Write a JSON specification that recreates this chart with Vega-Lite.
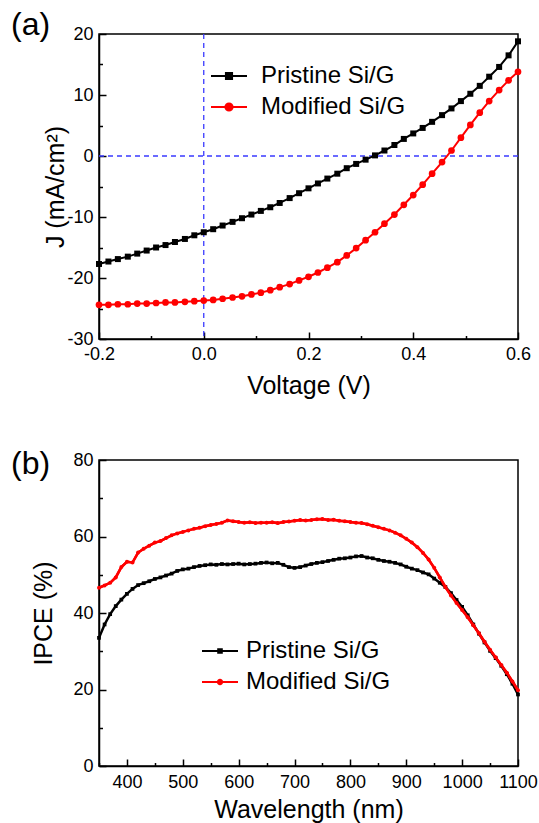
{
  "$schema": "https://vega.github.io/schema/vega-lite/v6.json",
  "background": "white",
  "padding": {"left": 10, "top": 8, "right": 0, "bottom": 0},
  "bounds": "flush",
  "spacing": 121,
  "resolve": {"scale": {"color": "independent"}, "legend": {"color": "independent"}},
  "datasets": {
    "jv": [
      {"V": -0.2, "J": -17.7, "series": "Pristine Si/G"},
      {"V": -0.182, "J": -17.3, "series": "Pristine Si/G"},
      {"V": -0.164, "J": -16.9, "series": "Pristine Si/G"},
      {"V": -0.145, "J": -16.5, "series": "Pristine Si/G"},
      {"V": -0.127, "J": -16.0, "series": "Pristine Si/G"},
      {"V": -0.109, "J": -15.5, "series": "Pristine Si/G"},
      {"V": -0.091, "J": -15.0, "series": "Pristine Si/G"},
      {"V": -0.073, "J": -14.6, "series": "Pristine Si/G"},
      {"V": -0.055, "J": -14.1, "series": "Pristine Si/G"},
      {"V": -0.036, "J": -13.6, "series": "Pristine Si/G"},
      {"V": -0.018, "J": -13.0, "series": "Pristine Si/G"},
      {"V": 0.0, "J": -12.5, "series": "Pristine Si/G"},
      {"V": 0.018, "J": -12.0, "series": "Pristine Si/G"},
      {"V": 0.036, "J": -11.4, "series": "Pristine Si/G"},
      {"V": 0.055, "J": -10.8, "series": "Pristine Si/G"},
      {"V": 0.073, "J": -10.2, "series": "Pristine Si/G"},
      {"V": 0.091, "J": -9.6, "series": "Pristine Si/G"},
      {"V": 0.109, "J": -9.0, "series": "Pristine Si/G"},
      {"V": 0.127, "J": -8.4, "series": "Pristine Si/G"},
      {"V": 0.145, "J": -7.7, "series": "Pristine Si/G"},
      {"V": 0.164, "J": -6.9, "series": "Pristine Si/G"},
      {"V": 0.182, "J": -6.1, "series": "Pristine Si/G"},
      {"V": 0.2, "J": -5.3, "series": "Pristine Si/G"},
      {"V": 0.218, "J": -4.5, "series": "Pristine Si/G"},
      {"V": 0.236, "J": -3.7, "series": "Pristine Si/G"},
      {"V": 0.255, "J": -2.9, "series": "Pristine Si/G"},
      {"V": 0.273, "J": -2.0, "series": "Pristine Si/G"},
      {"V": 0.291, "J": -1.3, "series": "Pristine Si/G"},
      {"V": 0.309, "J": -0.6, "series": "Pristine Si/G"},
      {"V": 0.327, "J": 0.1, "series": "Pristine Si/G"},
      {"V": 0.345, "J": 0.9, "series": "Pristine Si/G"},
      {"V": 0.364, "J": 1.8, "series": "Pristine Si/G"},
      {"V": 0.382, "J": 2.8, "series": "Pristine Si/G"},
      {"V": 0.4, "J": 3.7, "series": "Pristine Si/G"},
      {"V": 0.418, "J": 4.6, "series": "Pristine Si/G"},
      {"V": 0.436, "J": 5.6, "series": "Pristine Si/G"},
      {"V": 0.455, "J": 6.7, "series": "Pristine Si/G"},
      {"V": 0.473, "J": 7.8, "series": "Pristine Si/G"},
      {"V": 0.491, "J": 9.0, "series": "Pristine Si/G"},
      {"V": 0.509, "J": 10.2, "series": "Pristine Si/G"},
      {"V": 0.527, "J": 11.5, "series": "Pristine Si/G"},
      {"V": 0.545, "J": 13.0, "series": "Pristine Si/G"},
      {"V": 0.564, "J": 14.6, "series": "Pristine Si/G"},
      {"V": 0.582, "J": 16.5, "series": "Pristine Si/G"},
      {"V": 0.6, "J": 18.8, "series": "Pristine Si/G"},
      {"V": -0.2, "J": -24.4, "series": "Modified Si/G"},
      {"V": -0.182, "J": -24.4, "series": "Modified Si/G"},
      {"V": -0.164, "J": -24.3, "series": "Modified Si/G"},
      {"V": -0.145, "J": -24.3, "series": "Modified Si/G"},
      {"V": -0.127, "J": -24.2, "series": "Modified Si/G"},
      {"V": -0.109, "J": -24.2, "series": "Modified Si/G"},
      {"V": -0.091, "J": -24.1, "series": "Modified Si/G"},
      {"V": -0.073, "J": -24.0, "series": "Modified Si/G"},
      {"V": -0.055, "J": -24.0, "series": "Modified Si/G"},
      {"V": -0.036, "J": -23.9, "series": "Modified Si/G"},
      {"V": -0.018, "J": -23.8, "series": "Modified Si/G"},
      {"V": 0.0, "J": -23.7, "series": "Modified Si/G"},
      {"V": 0.018, "J": -23.6, "series": "Modified Si/G"},
      {"V": 0.036, "J": -23.4, "series": "Modified Si/G"},
      {"V": 0.055, "J": -23.2, "series": "Modified Si/G"},
      {"V": 0.073, "J": -23.0, "series": "Modified Si/G"},
      {"V": 0.091, "J": -22.7, "series": "Modified Si/G"},
      {"V": 0.109, "J": -22.4, "series": "Modified Si/G"},
      {"V": 0.127, "J": -22.0, "series": "Modified Si/G"},
      {"V": 0.145, "J": -21.5, "series": "Modified Si/G"},
      {"V": 0.164, "J": -21.0, "series": "Modified Si/G"},
      {"V": 0.182, "J": -20.4, "series": "Modified Si/G"},
      {"V": 0.2, "J": -19.8, "series": "Modified Si/G"},
      {"V": 0.218, "J": -19.1, "series": "Modified Si/G"},
      {"V": 0.236, "J": -18.3, "series": "Modified Si/G"},
      {"V": 0.255, "J": -17.4, "series": "Modified Si/G"},
      {"V": 0.273, "J": -16.3, "series": "Modified Si/G"},
      {"V": 0.291, "J": -15.1, "series": "Modified Si/G"},
      {"V": 0.309, "J": -13.8, "series": "Modified Si/G"},
      {"V": 0.327, "J": -12.5, "series": "Modified Si/G"},
      {"V": 0.345, "J": -11.1, "series": "Modified Si/G"},
      {"V": 0.364, "J": -9.6, "series": "Modified Si/G"},
      {"V": 0.382, "J": -8.0, "series": "Modified Si/G"},
      {"V": 0.4, "J": -6.4, "series": "Modified Si/G"},
      {"V": 0.418, "J": -4.7, "series": "Modified Si/G"},
      {"V": 0.436, "J": -2.9, "series": "Modified Si/G"},
      {"V": 0.455, "J": -1.0, "series": "Modified Si/G"},
      {"V": 0.473, "J": 0.9, "series": "Modified Si/G"},
      {"V": 0.491, "J": 3.0, "series": "Modified Si/G"},
      {"V": 0.509, "J": 5.1, "series": "Modified Si/G"},
      {"V": 0.527, "J": 7.1, "series": "Modified Si/G"},
      {"V": 0.545, "J": 9.0, "series": "Modified Si/G"},
      {"V": 0.564, "J": 10.8, "series": "Modified Si/G"},
      {"V": 0.582, "J": 12.4, "series": "Modified Si/G"},
      {"V": 0.6, "J": 13.8, "series": "Modified Si/G"}
    ],
    "ipce": [
      {"wl": 350, "y": 33.5, "series": "Pristine Si/G"},
      {"wl": 360, "y": 37.0, "series": "Pristine Si/G"},
      {"wl": 370, "y": 39.7, "series": "Pristine Si/G"},
      {"wl": 380, "y": 41.8, "series": "Pristine Si/G"},
      {"wl": 390, "y": 43.5, "series": "Pristine Si/G"},
      {"wl": 400, "y": 45.0, "series": "Pristine Si/G"},
      {"wl": 410, "y": 46.3, "series": "Pristine Si/G"},
      {"wl": 420, "y": 47.3, "series": "Pristine Si/G"},
      {"wl": 430, "y": 47.8, "series": "Pristine Si/G"},
      {"wl": 440, "y": 48.3, "series": "Pristine Si/G"},
      {"wl": 450, "y": 48.9, "series": "Pristine Si/G"},
      {"wl": 460, "y": 49.3, "series": "Pristine Si/G"},
      {"wl": 470, "y": 49.8, "series": "Pristine Si/G"},
      {"wl": 480, "y": 50.3, "series": "Pristine Si/G"},
      {"wl": 490, "y": 51.0, "series": "Pristine Si/G"},
      {"wl": 500, "y": 51.4, "series": "Pristine Si/G"},
      {"wl": 510, "y": 51.6, "series": "Pristine Si/G"},
      {"wl": 520, "y": 52.0, "series": "Pristine Si/G"},
      {"wl": 530, "y": 52.3, "series": "Pristine Si/G"},
      {"wl": 540, "y": 52.5, "series": "Pristine Si/G"},
      {"wl": 550, "y": 52.7, "series": "Pristine Si/G"},
      {"wl": 560, "y": 52.6, "series": "Pristine Si/G"},
      {"wl": 570, "y": 52.8, "series": "Pristine Si/G"},
      {"wl": 580, "y": 52.7, "series": "Pristine Si/G"},
      {"wl": 590, "y": 52.8, "series": "Pristine Si/G"},
      {"wl": 600, "y": 52.9, "series": "Pristine Si/G"},
      {"wl": 610, "y": 52.7, "series": "Pristine Si/G"},
      {"wl": 620, "y": 52.8, "series": "Pristine Si/G"},
      {"wl": 630, "y": 52.9, "series": "Pristine Si/G"},
      {"wl": 640, "y": 53.1, "series": "Pristine Si/G"},
      {"wl": 650, "y": 53.2, "series": "Pristine Si/G"},
      {"wl": 660, "y": 53.0, "series": "Pristine Si/G"},
      {"wl": 670, "y": 53.1, "series": "Pristine Si/G"},
      {"wl": 680, "y": 52.6, "series": "Pristine Si/G"},
      {"wl": 690, "y": 52.0, "series": "Pristine Si/G"},
      {"wl": 700, "y": 51.8, "series": "Pristine Si/G"},
      {"wl": 710, "y": 52.0, "series": "Pristine Si/G"},
      {"wl": 720, "y": 52.4, "series": "Pristine Si/G"},
      {"wl": 730, "y": 52.8, "series": "Pristine Si/G"},
      {"wl": 740, "y": 53.1, "series": "Pristine Si/G"},
      {"wl": 750, "y": 53.3, "series": "Pristine Si/G"},
      {"wl": 760, "y": 53.6, "series": "Pristine Si/G"},
      {"wl": 770, "y": 53.9, "series": "Pristine Si/G"},
      {"wl": 780, "y": 54.2, "series": "Pristine Si/G"},
      {"wl": 790, "y": 54.3, "series": "Pristine Si/G"},
      {"wl": 800, "y": 54.5, "series": "Pristine Si/G"},
      {"wl": 810, "y": 54.8, "series": "Pristine Si/G"},
      {"wl": 820, "y": 54.9, "series": "Pristine Si/G"},
      {"wl": 830, "y": 54.5, "series": "Pristine Si/G"},
      {"wl": 840, "y": 54.3, "series": "Pristine Si/G"},
      {"wl": 850, "y": 53.9, "series": "Pristine Si/G"},
      {"wl": 860, "y": 53.6, "series": "Pristine Si/G"},
      {"wl": 870, "y": 53.4, "series": "Pristine Si/G"},
      {"wl": 880, "y": 53.1, "series": "Pristine Si/G"},
      {"wl": 890, "y": 52.7, "series": "Pristine Si/G"},
      {"wl": 900, "y": 52.1, "series": "Pristine Si/G"},
      {"wl": 910, "y": 51.6, "series": "Pristine Si/G"},
      {"wl": 920, "y": 51.2, "series": "Pristine Si/G"},
      {"wl": 930, "y": 50.6, "series": "Pristine Si/G"},
      {"wl": 940, "y": 50.1, "series": "Pristine Si/G"},
      {"wl": 950, "y": 49.0, "series": "Pristine Si/G"},
      {"wl": 960, "y": 47.9, "series": "Pristine Si/G"},
      {"wl": 970, "y": 46.8, "series": "Pristine Si/G"},
      {"wl": 980, "y": 45.2, "series": "Pristine Si/G"},
      {"wl": 990, "y": 43.4, "series": "Pristine Si/G"},
      {"wl": 1000, "y": 41.6, "series": "Pristine Si/G"},
      {"wl": 1010, "y": 39.4, "series": "Pristine Si/G"},
      {"wl": 1020, "y": 37.0, "series": "Pristine Si/G"},
      {"wl": 1030, "y": 34.6, "series": "Pristine Si/G"},
      {"wl": 1040, "y": 32.3, "series": "Pristine Si/G"},
      {"wl": 1050, "y": 30.1, "series": "Pristine Si/G"},
      {"wl": 1060, "y": 28.2, "series": "Pristine Si/G"},
      {"wl": 1070, "y": 26.2, "series": "Pristine Si/G"},
      {"wl": 1080, "y": 24.0, "series": "Pristine Si/G"},
      {"wl": 1090, "y": 21.5, "series": "Pristine Si/G"},
      {"wl": 1100, "y": 18.7, "series": "Pristine Si/G"},
      {"wl": 350, "y": 46.6, "series": "Modified Si/G"},
      {"wl": 360, "y": 47.2, "series": "Modified Si/G"},
      {"wl": 370, "y": 47.9, "series": "Modified Si/G"},
      {"wl": 380, "y": 49.3, "series": "Modified Si/G"},
      {"wl": 390, "y": 52.0, "series": "Modified Si/G"},
      {"wl": 400, "y": 53.4, "series": "Modified Si/G"},
      {"wl": 410, "y": 53.2, "series": "Modified Si/G"},
      {"wl": 420, "y": 55.8, "series": "Modified Si/G"},
      {"wl": 430, "y": 56.8, "series": "Modified Si/G"},
      {"wl": 440, "y": 57.6, "series": "Modified Si/G"},
      {"wl": 450, "y": 58.4, "series": "Modified Si/G"},
      {"wl": 460, "y": 58.8, "series": "Modified Si/G"},
      {"wl": 470, "y": 59.6, "series": "Modified Si/G"},
      {"wl": 480, "y": 60.3, "series": "Modified Si/G"},
      {"wl": 490, "y": 60.8, "series": "Modified Si/G"},
      {"wl": 500, "y": 61.2, "series": "Modified Si/G"},
      {"wl": 510, "y": 61.6, "series": "Modified Si/G"},
      {"wl": 520, "y": 62.0, "series": "Modified Si/G"},
      {"wl": 530, "y": 62.3, "series": "Modified Si/G"},
      {"wl": 540, "y": 62.7, "series": "Modified Si/G"},
      {"wl": 550, "y": 63.0, "series": "Modified Si/G"},
      {"wl": 560, "y": 63.3, "series": "Modified Si/G"},
      {"wl": 570, "y": 63.6, "series": "Modified Si/G"},
      {"wl": 580, "y": 64.2, "series": "Modified Si/G"},
      {"wl": 590, "y": 64.0, "series": "Modified Si/G"},
      {"wl": 600, "y": 63.8, "series": "Modified Si/G"},
      {"wl": 610, "y": 63.6, "series": "Modified Si/G"},
      {"wl": 620, "y": 63.7, "series": "Modified Si/G"},
      {"wl": 630, "y": 63.5, "series": "Modified Si/G"},
      {"wl": 640, "y": 63.6, "series": "Modified Si/G"},
      {"wl": 650, "y": 63.6, "series": "Modified Si/G"},
      {"wl": 660, "y": 63.7, "series": "Modified Si/G"},
      {"wl": 670, "y": 63.5, "series": "Modified Si/G"},
      {"wl": 680, "y": 63.8, "series": "Modified Si/G"},
      {"wl": 690, "y": 63.9, "series": "Modified Si/G"},
      {"wl": 700, "y": 64.1, "series": "Modified Si/G"},
      {"wl": 710, "y": 64.3, "series": "Modified Si/G"},
      {"wl": 720, "y": 64.2, "series": "Modified Si/G"},
      {"wl": 730, "y": 64.3, "series": "Modified Si/G"},
      {"wl": 740, "y": 64.5, "series": "Modified Si/G"},
      {"wl": 750, "y": 64.6, "series": "Modified Si/G"},
      {"wl": 760, "y": 64.3, "series": "Modified Si/G"},
      {"wl": 770, "y": 64.4, "series": "Modified Si/G"},
      {"wl": 780, "y": 64.1, "series": "Modified Si/G"},
      {"wl": 790, "y": 64.0, "series": "Modified Si/G"},
      {"wl": 800, "y": 63.8, "series": "Modified Si/G"},
      {"wl": 810, "y": 63.6, "series": "Modified Si/G"},
      {"wl": 820, "y": 63.5, "series": "Modified Si/G"},
      {"wl": 830, "y": 63.2, "series": "Modified Si/G"},
      {"wl": 840, "y": 62.8, "series": "Modified Si/G"},
      {"wl": 850, "y": 62.4, "series": "Modified Si/G"},
      {"wl": 860, "y": 62.0, "series": "Modified Si/G"},
      {"wl": 870, "y": 61.6, "series": "Modified Si/G"},
      {"wl": 880, "y": 61.0, "series": "Modified Si/G"},
      {"wl": 890, "y": 60.3, "series": "Modified Si/G"},
      {"wl": 900, "y": 59.4, "series": "Modified Si/G"},
      {"wl": 910, "y": 58.4, "series": "Modified Si/G"},
      {"wl": 920, "y": 57.2, "series": "Modified Si/G"},
      {"wl": 930, "y": 55.7, "series": "Modified Si/G"},
      {"wl": 940, "y": 54.0, "series": "Modified Si/G"},
      {"wl": 950, "y": 51.8, "series": "Modified Si/G"},
      {"wl": 960, "y": 49.3, "series": "Modified Si/G"},
      {"wl": 970, "y": 46.8, "series": "Modified Si/G"},
      {"wl": 980, "y": 44.6, "series": "Modified Si/G"},
      {"wl": 990, "y": 42.6, "series": "Modified Si/G"},
      {"wl": 1000, "y": 40.8, "series": "Modified Si/G"},
      {"wl": 1010, "y": 38.9, "series": "Modified Si/G"},
      {"wl": 1020, "y": 36.8, "series": "Modified Si/G"},
      {"wl": 1030, "y": 34.7, "series": "Modified Si/G"},
      {"wl": 1040, "y": 32.5, "series": "Modified Si/G"},
      {"wl": 1050, "y": 30.4, "series": "Modified Si/G"},
      {"wl": 1060, "y": 28.4, "series": "Modified Si/G"},
      {"wl": 1070, "y": 26.4, "series": "Modified Si/G"},
      {"wl": 1080, "y": 24.4, "series": "Modified Si/G"},
      {"wl": 1090, "y": 22.1, "series": "Modified Si/G"},
      {"wl": 1100, "y": 19.8, "series": "Modified Si/G"}
    ],
    "zeroV": [{"V": 0}],
    "zeroJ": [{"J": 0}]
  },
  "vconcat": [
    {
      "width": 419,
      "height": 305,
      "title": {"text": "(a)", "anchor": "start", "frame": "group", "fontSize": 32, "fontWeight": "normal", "baseline": "alphabetic", "offset": 0, "dx": -88, "dy": 42},
      "resolve": {"axis": {"x": "independent", "y": "independent"}},
      "layer": [
        {
          "data": {"name": "zeroV"},
          "mark": {"type": "rule", "color": "#3a3aff", "strokeDash": [5, 4], "strokeWidth": 1.3},
          "encoding": {"x": {"field": "V", "type": "quantitative", "axis": null}}
        },
        {
          "data": {"name": "zeroJ"},
          "mark": {"type": "rule", "color": "#3a3aff", "strokeDash": [5, 4], "strokeWidth": 1.3},
          "encoding": {"y": {"field": "J", "type": "quantitative", "axis": null}}
        },
        {
          "data": {"name": "jv"},
          "mark": {"type": "line", "strokeWidth": 2},
          "encoding": {
            "x": {"field": "V", "type": "quantitative", "title": "Voltage (V)",
              "scale": {"domain": [-0.2, 0.6], "nice": false, "zero": false},
              "axis": {"orient": "bottom", "values": [-0.2, 0, 0.2, 0.4, 0.6], "tickSize": -7, "labelPadding": 13, "titlePadding": 10,
                "labelExpr": "replace(format(datum.value,'.1f'),'−','-')"}},
            "y": {"field": "J", "type": "quantitative", "title": "J (mA/cm²)",
              "scale": {"domain": [-30, 20], "nice": false, "zero": false},
              "axis": {"orient": "left", "values": [-30, -20, -10, 0, 10, 20], "tickSize": -7, "labelPadding": 13, "titlePadding": -2,
                "labelExpr": "'' + datum.value"}},
            "color": {"field": "series", "type": "nominal", "sort": ["Pristine Si/G", "Modified Si/G"],
              "scale": {"domain": ["Pristine Si/G", "Modified Si/G"], "range": ["#000000", "#ff0000"]},
              "legend": {"title": null, "orient": "none", "legendX": 111, "legendY": 23, "padding": 0,
                "symbolSize": 1296, "labelFontSize": 24, "labelOffset": 13, "rowPadding": -2,
                "encode": {"symbols": {"update": {
                  "shape": {"signal": "datum.value == 'Pristine Si/G' ? 'M-1,0H1M-0.17,-0.17H0.17V0.17H-0.17Z' : 'M-1,0H1M0.2,0A0.2,0.2,0,1,1,-0.2,0A0.2,0.2,0,1,1,0.2,0Z'"},
                  "fill": {"signal": "datum.value == 'Pristine Si/G' ? '#000000' : '#ff0000'"},
                  "stroke": {"signal": "datum.value == 'Pristine Si/G' ? '#000000' : '#ff0000'"},
                  "strokeWidth": {"value": 2},
                  "size": {"value": 1296},
                  "opacity": {"value": 1}}}}}}
          }
        },
        {
          "data": {"name": "jv"},
          "transform": [{"filter": "datum.series == 'Pristine Si/G'"}],
          "mark": {"type": "point", "shape": "square", "filled": true, "size": 36, "color": "#000000", "opacity": 1},
          "encoding": {
            "x": {"field": "V", "type": "quantitative",
              "axis": {"orient": "bottom", "values": [-0.1, 0.1, 0.3, 0.5], "tickSize": -3.5, "labels": false, "domain": false, "title": null}},
            "y": {"field": "J", "type": "quantitative",
              "axis": {"orient": "left", "values": [-25, -15, -5, 5, 15], "tickSize": -3.5, "labels": false, "domain": false, "title": null}}
          }
        },
        {
          "data": {"name": "jv"},
          "transform": [{"filter": "datum.series == 'Modified Si/G'"}],
          "mark": {"type": "point", "shape": "circle", "filled": true, "size": 45, "color": "#ff0000", "opacity": 1},
          "encoding": {"x": {"field": "V", "type": "quantitative", "axis": null}, "y": {"field": "J", "type": "quantitative", "axis": null}}
        }
      ]
    },
    {
      "width": 419,
      "height": 306,
      "title": {"text": "(b)", "anchor": "start", "frame": "group", "fontSize": 32, "fontWeight": "normal", "baseline": "alphabetic", "offset": 0, "dx": -88, "dy": 55},
      "data": {"name": "ipce"},
      "resolve": {"axis": {"x": "independent", "y": "independent"}},
      "layer": [
        {
          "mark": {"type": "line", "strokeWidth": 2.5},
          "encoding": {
            "x": {"field": "wl", "type": "quantitative", "title": "Wavelength (nm)",
              "scale": {"domain": [350, 1100], "nice": false, "zero": false},
              "axis": {"orient": "bottom", "values": [400, 500, 600, 700, 800, 900, 1000, 1100], "format": "d", "tickSize": -7, "labelPadding": 14, "titlePadding": 6}},
            "y": {"field": "y", "type": "quantitative", "title": "IPCE (%)",
              "scale": {"domain": [0, 80], "nice": false},
              "axis": {"orient": "left", "values": [0, 20, 40, 60, 80], "format": "d", "tickSize": -7, "labelPadding": 13, "titlePadding": 16}},
            "color": {"field": "series", "type": "nominal", "sort": ["Pristine Si/G", "Modified Si/G"],
              "scale": {"domain": ["Pristine Si/G", "Modified Si/G"], "range": ["#000000", "#ff0000"]},
              "legend": {"title": null, "orient": "none", "legendX": 102, "legendY": 172, "padding": 0,
                "symbolSize": 1296, "labelFontSize": 24, "labelOffset": 7, "rowPadding": -5,
                "encode": {"symbols": {"update": {
                  "shape": {"signal": "datum.value == 'Pristine Si/G' ? 'M-1,0H1M-0.1,-0.1H0.1V0.1H-0.1Z' : 'M-1,0H1M0.12,0A0.12,0.12,0,1,1,-0.12,0A0.12,0.12,0,1,1,0.12,0Z'"},
                  "fill": {"signal": "datum.value == 'Pristine Si/G' ? '#000000' : '#ff0000'"},
                  "stroke": {"signal": "datum.value == 'Pristine Si/G' ? '#000000' : '#ff0000'"},
                  "strokeWidth": {"value": 2},
                  "size": {"value": 1296},
                  "opacity": {"value": 1}}}}}}
          }
        },
        {
          "transform": [{"filter": "datum.series == 'Pristine Si/G'"}],
          "mark": {"type": "point", "shape": "square", "filled": true, "size": 14, "color": "#000000", "opacity": 1},
          "encoding": {
            "x": {"field": "wl", "type": "quantitative",
              "axis": {"orient": "bottom", "values": [350, 450, 550, 650, 750, 850, 950, 1050], "tickSize": -3.5, "labels": false, "domain": false, "title": null}},
            "y": {"field": "y", "type": "quantitative",
              "axis": {"orient": "left", "values": [10, 30, 50, 70], "tickSize": -3.5, "labels": false, "domain": false, "title": null}}
          }
        },
        {
          "transform": [{"filter": "datum.series == 'Modified Si/G'"}],
          "mark": {"type": "line", "strokeWidth": 2.5, "color": "#ff0000"},
          "encoding": {"x": {"field": "wl", "type": "quantitative", "axis": null}, "y": {"field": "y", "type": "quantitative", "axis": null}}
        },
        {
          "transform": [{"filter": "datum.series == 'Modified Si/G'"}],
          "mark": {"type": "point", "shape": "circle", "filled": true, "size": 16, "color": "#ff0000", "opacity": 1},
          "encoding": {"x": {"field": "wl", "type": "quantitative", "axis": null}, "y": {"field": "y", "type": "quantitative", "axis": null}}
        }
      ]
    }
  ],
  "config": {
    "font": "Liberation Sans",
    "view": {"stroke": "#000000", "strokeWidth": 1.5},
    "title": {"color": "#000000", "font": "Liberation Sans"},
    "axis": {
      "grid": false,
      "domainColor": "#000000", "domainWidth": 1.5,
      "tickColor": "#000000", "tickWidth": 1.5,
      "labelColor": "#000000", "labelFont": "Liberation Sans", "labelFontSize": 18,
      "labelFlush": false, "labelOverlap": false,
      "titleColor": "#000000", "titleFont": "Liberation Sans", "titleFontSize": 25, "titleFontWeight": "normal"
    },
    "legend": {"labelColor": "#000000", "labelFont": "Liberation Sans"}
  }
}
